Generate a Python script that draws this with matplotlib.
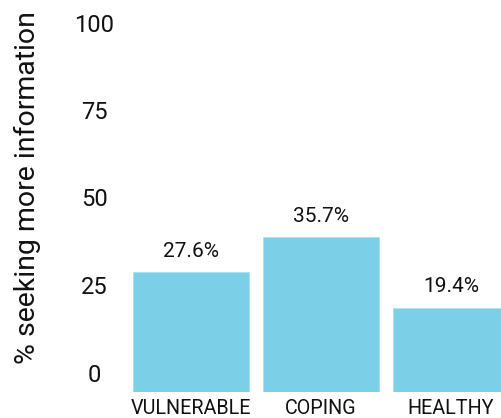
import matplotlib
matplotlib.use("Agg")
import matplotlib.pyplot as plt

plt.rcParams['font.family'] = ['Roboto', 'DejaVu Sans']

categories = ["VULNERABLE", "COPING", "HEALTHY"]
values = [27.6, 35.7, 19.4]
value_labels = ["27.6%", "35.7%", "19.4%"]
yticks = [0, 25, 50, 75, 100]
ylabel = "% seeking more information"

W, H = 502, 418
fig = plt.figure(figsize=(W / 100, H / 100), dpi=100)

# bar axes
px_per_unit = 4.35
bx0, by0 = 126, 26
bw, bh = 390, H - by0
ax = fig.add_axes([bx0 / W, by0 / H, bw / W, bh / H])
x = list(range(len(categories)))
ax.bar(x, values, width=0.892, color="#7bd0e7", edgecolor="#a9e0ef", linewidth=0.6)
ax.set_xlim(-0.5, 2.5)
ax.set_ylim(0, bh / px_per_unit)
ax.set_xticks(x)
ax.set_xticklabels(categories, fontsize=14.2, color="#111111")
ax.tick_params(axis="x", length=0, pad=5)
ax.set_yticks([])
for s in ax.spines.values():
    s.set_visible(False)
for xi, v, lab in zip(x, values, value_labels):
    ax.annotate(lab, (xi, v), xytext=(0, 8), textcoords="offset points",
                ha="center", va="bottom", fontsize=15, color="#111111")

# tick axes
ty0, th = H - 372.5, 350
tax = fig.add_axes([bx0 / W, ty0 / H, 0.01, th / H])
tax.patch.set_visible(False)
tax.set_ylim(0, 100)
tax.set_yticks(yticks)
tax.set_yticklabels([str(t) for t in yticks], fontsize=17, color="#111111")
for lab in tax.get_yticklabels():
    lab.set_horizontalalignment("center")
tax.tick_params(axis="y", length=0, pad=23)
tax.set_xticks([])
for s in tax.spines.values():
    s.set_visible(False)

fig.text(27 / W, 1 - 188 / H, ylabel, rotation=90, ha="center", va="center",
         fontsize=20.5, color="#111111")

fig.savefig("out.png", dpi=100)
